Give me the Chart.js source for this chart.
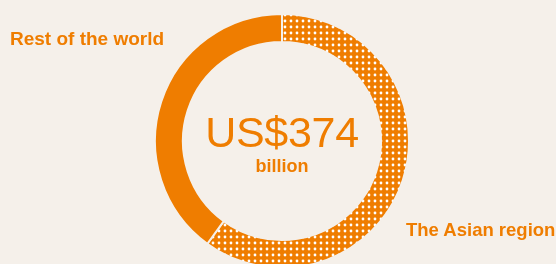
<!DOCTYPE html>
<html>
<head>
<meta charset="utf-8">
<script src="https://cdn.jsdelivr.net/npm/chart.js@4/dist/chart.umd.min.js"></script>
<style>
  html, body { margin:0; padding:0; background:#f5f0ea; overflow:hidden; }
  #wrap { position:absolute; left:0; top:0; width:556px; height:282px; }
  .lbl { position:absolute; color:#ef7d00; font-family:"Liberation Sans", Arial, sans-serif; white-space:nowrap; line-height:1; }
  #rest { left:10px; top:29px; font-size:19px; font-weight:bold; }
  #asia { left:406px; top:221px; font-size:18.5px; font-weight:bold; }
  #big { left:182px; width:200px; text-align:center; top:111px; font-size:43px; font-weight:normal; letter-spacing:-0.3px; }
  #small { left:182px; width:200px; text-align:center; top:157px; font-size:18px; font-weight:bold; }
</style>
</head>
<body>
<div id="wrap"><canvas id="c" width="556" height="282"></canvas></div>
<div class="lbl" id="rest">Rest of the world</div>
<div class="lbl" id="asia">The Asian region</div>
<div class="lbl" id="big">US$374</div>
<div class="lbl" id="small">billion</div>
<script>
const categories = ["The Asian region", "Rest of the world"];
const shares = [60, 40];
const totalLabel = "US$374";
const unitLabel = "billion";

const ORANGE = "#ef7d00";
const BG = "#f5f0ea";

function dotPattern() {
  const t = document.createElement("canvas");
  t.width = 6; t.height = 6;
  const g = t.getContext("2d");
  g.fillStyle = ORANGE;
  g.fillRect(0, 0, 6, 6);
  g.fillStyle = "#ffffff";
  g.beginPath(); g.arc(3, 3, 1.4, 0, Math.PI*2); g.fill();
  return g.createPattern(t, "repeat");
}

const ctx = document.getElementById("c").getContext("2d");
new Chart(ctx, {
  type: "doughnut",
  data: {
    labels: categories,
    datasets: [{
      data: shares,
      backgroundColor: [dotPattern(), ORANGE],
      borderColor: BG,
      borderWidth: 2,
      hoverOffset: 0
    }]
  },
  options: {
    responsive: false,
    animation: false,
    cutout: "78%",
    rotation: 0,
    layout: { padding: { left: 154, right: 146, top: 13, bottom: 13 } },
    plugins: { legend: { display: false }, tooltip: { enabled: false } }
  }
});
</script>
</body>
</html>
